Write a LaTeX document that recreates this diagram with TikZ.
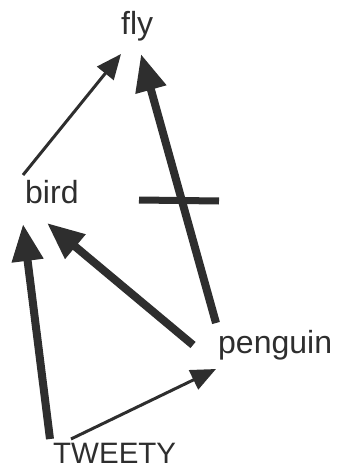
\documentclass[tikz,border=0pt]{standalone}
\usepackage{fontspec}
\setmainfont{Liberation Sans}
\usetikzlibrary{arrows.meta}
\definecolor{ink}{HTML}{2E2E2E}
\begin{document}
\begin{tikzpicture}[x=1pt,y=-1pt,
  lbl/.style={anchor=base west,inner sep=0pt,font=\fontsize{32}{38}\selectfont,text=ink},
  thinarrow/.style={draw=ink,line width=3pt,-{Triangle[length=25pt,width=21pt]}},
  thickarrow/.style={draw=ink,line width=8pt,-{Triangle[length=37pt,width=30pt]}},
  blockbar/.style={draw=ink,line width=7pt}]
\useasboundingbox (0,0) rectangle (338,470);
% labels
\node[lbl] (fly) at (121,35) {fly};
\node[lbl] (bird) at (25,204) {bird};
\node[lbl] (penguin) at (218,353) {penguin};
\node[lbl,font=\fontsize{29.5}{35}\selectfont] (tweety) at (53,463) {TWEETY};
% connector end points
\coordinate (flyA) at (121,54);
\coordinate (flyB) at (141,54);
\coordinate (birdTop) at (23,175);
\coordinate (birdA) at (23,224);
\coordinate (birdB) at (47,223);
\coordinate (pengTop) at (216,323);
\coordinate (pengLeft) at (193,345);
\coordinate (pengIn) at (216,369);
\coordinate (twA) at (50,439);
\coordinate (twB) at (71,439);
\coordinate (barL) at (139,200);
\coordinate (barR) at (219,201);
% connectors
\draw[thinarrow] (birdTop) -- (flyA);
\draw[thickarrow] (pengTop) -- (flyB);
\draw[blockbar] (barL) -- (barR);
\draw[thickarrow] (pengLeft) -- (birdB);
\draw[thickarrow] (twA) -- (birdA);
\draw[thinarrow] (twB) -- (pengIn);
\end{tikzpicture}
\end{document}
